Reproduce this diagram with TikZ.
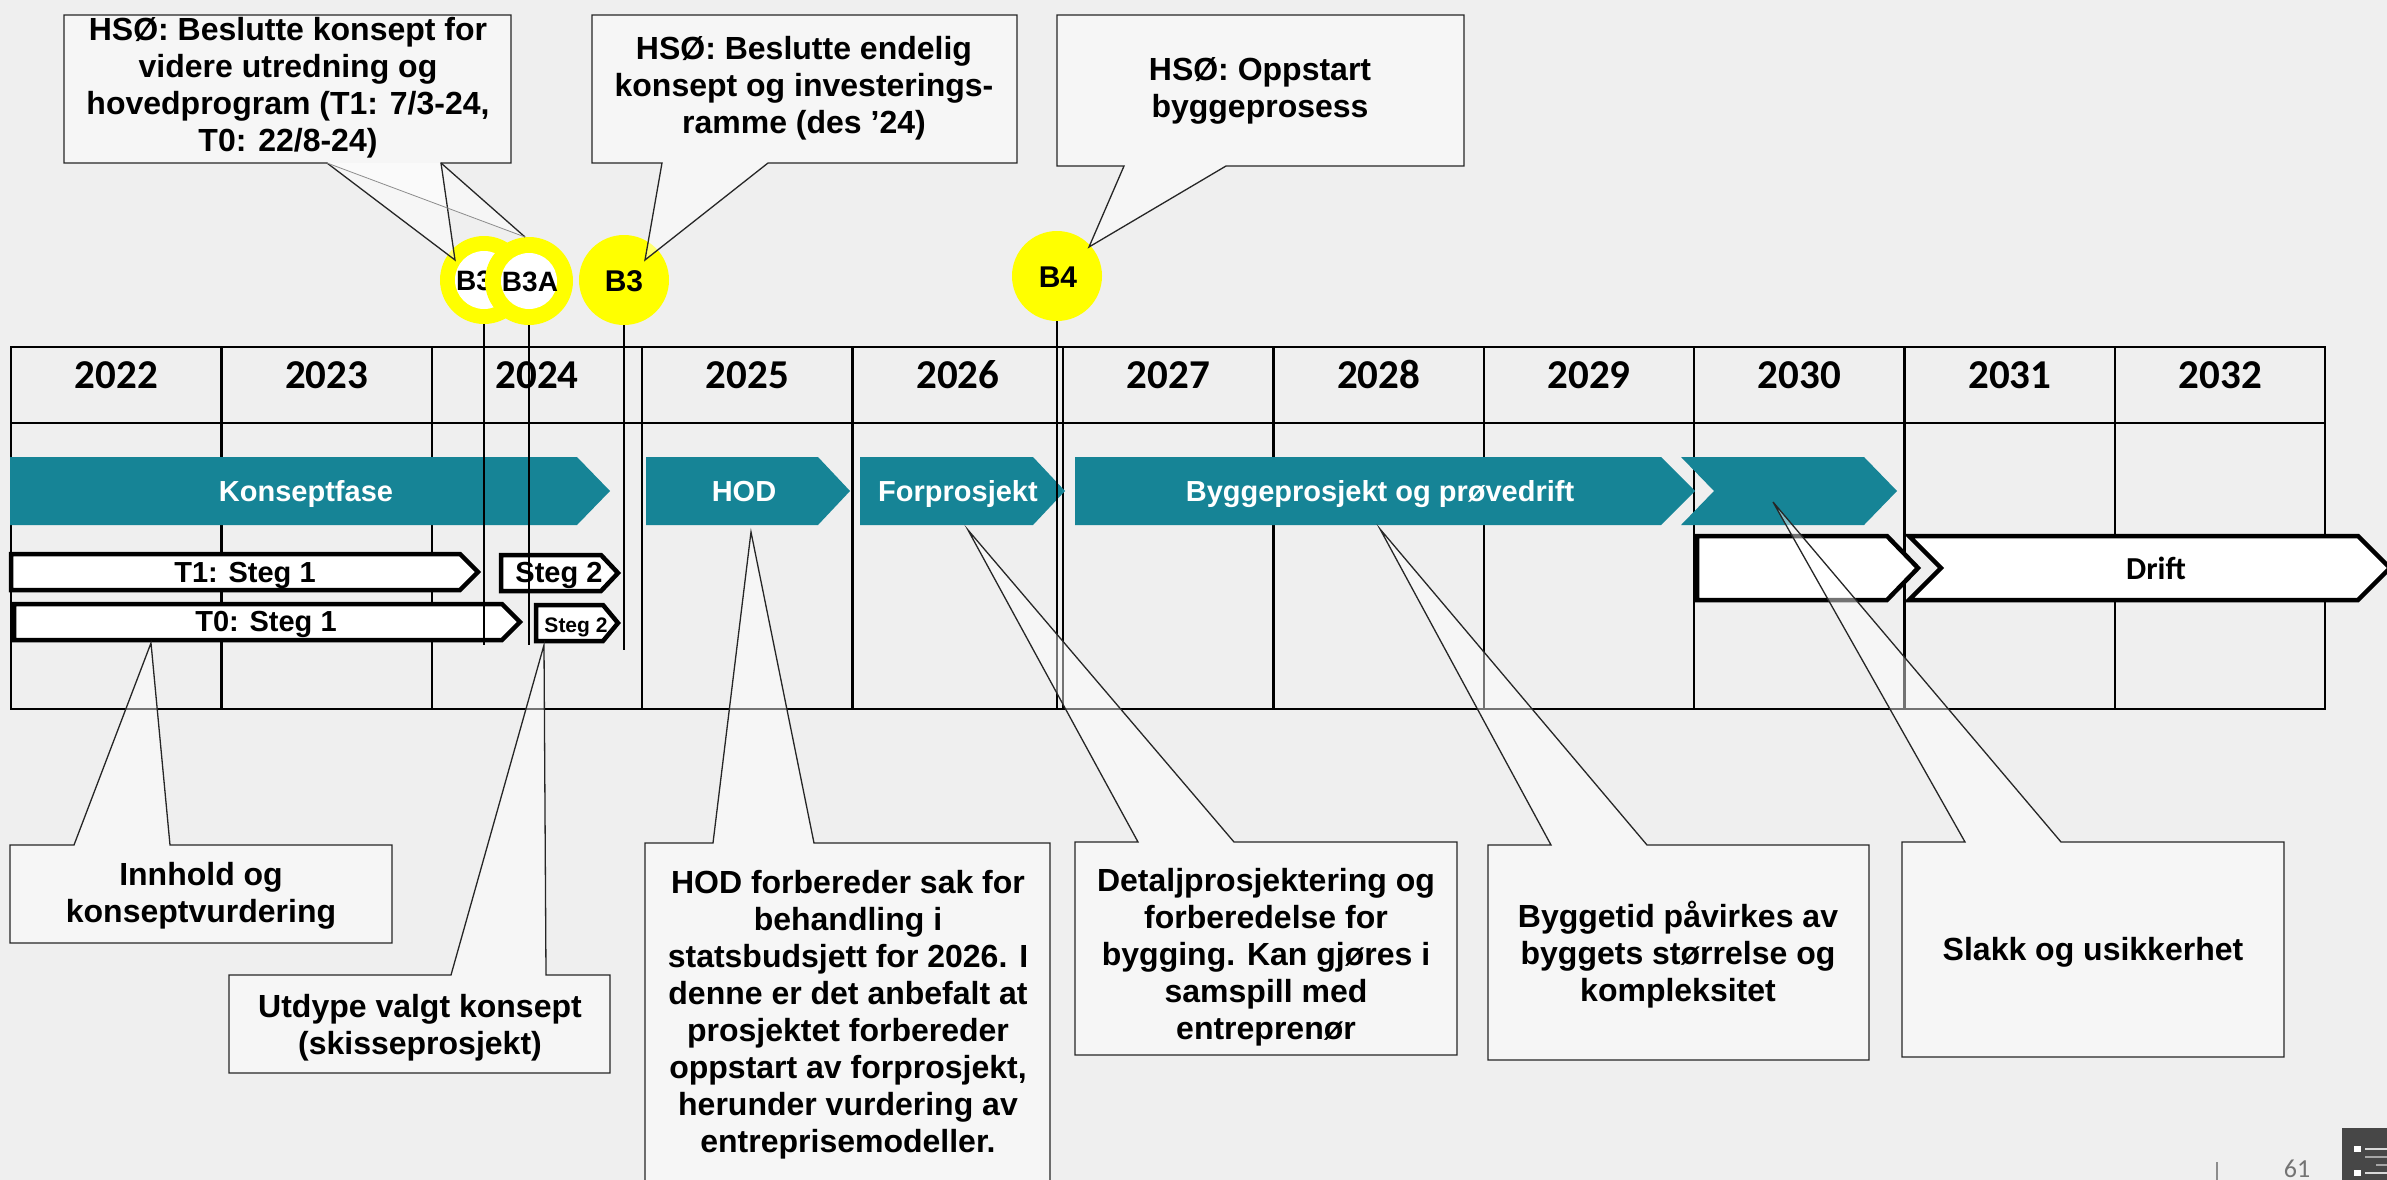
\documentclass[tikz,border=0pt]{standalone}
\usepackage{fontspec}
\newfontfamily\lsans{Liberation Sans}
\newfontfamily\carl{Carlito}
\usetikzlibrary{calc}
\definecolor{bgc}{HTML}{EFEFEF}
\definecolor{tealc}{HTML}{168496}
\definecolor{yelc}{HTML}{FFFF00}
\newcommand{\mycfont}{\lsans\bfseries\fontsize{32}{37}\selectfont}
\newcommand{\mybfont}{\lsans\bfseries\fontsize{29}{34}\selectfont}
\newcommand{\mysfont}{\lsans\bfseries\fontsize{21}{25}\selectfont}
\newcommand{\myyfont}{\carl\bfseries\fontsize{41}{48}\selectfont}
\newcommand{\mydfont}{\carl\bfseries\fontsize{32}{38}\selectfont}
\newcommand{\myrfont}{\lsans\bfseries\fontsize{28}{32}\selectfont}
\newcommand{\myqfont}{\lsans\bfseries\fontsize{30}{36}\selectfont}
\begin{document}
\begin{tikzpicture}[x=1pt,y=-1pt,
  gridln/.style={line width=2.5pt, black},
  tealbar/.style={fill=tealc, draw=none},
  whitebar/.style={fill=white, draw=black, line width=4.5pt, line join=miter},
  bline/.style={line width=2pt, black},
  callout/.style={draw=black!85, line width=1.3pt, fill=white, fill opacity=0.45, line join=miter},
  ctext/.style={font=\mycfont, align=center, inner sep=0pt, text=black},
  btext/.style={font=\mybfont, text=white, inner sep=0pt, anchor=base},
  stext/.style={font=\mybfont, text=black, inner sep=0pt, anchor=base},
  ytext/.style={font=\myyfont, text=black, inner sep=0pt, anchor=base},
  ring/.style={circle, fill=yelc, minimum size=88pt, inner sep=0pt},
  ringin/.style={circle, fill=white, inner sep=0pt},
]
\useasboundingbox (0,0) rectangle (2387,1180);
\fill[bgc] (0,0) rectangle (2387,1180);

% ---------------- table ----------------
\draw[gridln] (11,347) rectangle (2325,709);
\draw[gridln] (11,423) -- (2325,423);
\foreach \i in {1,...,10} { \draw[gridln] ({11+210.4*\i},347) -- ({11+210.4*\i},709); }
\foreach \i in {0,...,10} {
  \pgfmathtruncatemacro{\yr}{2022+\i}
  \node[ytext] (yr\i) at ({116.2+210.4*\i},388) {\yr};
}

% ---------------- teal phase bars ----------------
\fill[tealbar] (10,457) -- (577,457) -- (610,491) -- (577,525) -- (10,525) -- cycle;
\fill[tealbar] (646,457) -- (818,457) -- (850,491) -- (818,525) -- (646,525) -- cycle;
\fill[tealbar] (860,457) -- (1033,457) -- (1065,491) -- (1033,525) -- (860,525) -- cycle;
\fill[tealbar] (1075,457) -- (1661,457) -- (1695,491) -- (1661,525) -- (1075,525) -- cycle;
\fill[tealbar] (1681,457) -- (1864,457) -- (1897,491) -- (1864,525) -- (1681,525) -- (1714,491) -- cycle;

% ---------------- white step bars ----------------
\draw[whitebar] (11,554) -- (460,554) -- (478,572) -- (460,590) -- (11,590) -- cycle;
\draw[whitebar] (501,555) -- (601,555) -- (618,573) -- (601,591) -- (501,591) -- cycle;
\draw[whitebar] (14,604) -- (502,604) -- (520,622) -- (502,640) -- (14,640) -- cycle;
\draw[whitebar] (536,605) -- (603,605) -- (618,623) -- (603,641) -- (536,641) -- cycle;
\draw[whitebar] (1697,536) -- (1887,536) -- (1918,568) -- (1887,600) -- (1697,600) -- cycle;
\draw[whitebar] (1909,536) -- (2358,536) -- (2390,568) -- (2358,600) -- (1909,600) -- (1941,568) -- cycle;

% ---------------- milestones ----------------
\node[ring] (r1) at (484,280) {};
\node[ringin, minimum size=58pt] (r1i) at (484,280) {};
\node[font=\myrfont, inner sep=0pt, anchor=base] (r1t) at (474,290) {B3};
\node[ring] (r2) at (529,281) {};
\node[ringin, minimum size=56pt] (r2i) at (529,281) {};
\node[font=\myrfont, inner sep=0pt, anchor=base] (r2t) at (530,291) {B3A};
\node[ring, minimum size=90pt] (c3) at (624,280) {};
\node[font=\myqfont, inner sep=0pt, anchor=base] (c3t) at (624,291) {B3};
\node[ring, minimum size=90pt] (c4) at (1057,276) {};
\node[font=\myqfont, inner sep=0pt, anchor=base] (c4t) at (1058,287) {B4};

\coordinate (e1) at (484,645);
\coordinate (e2) at (529,645);
\coordinate (e3) at (624,650);
\coordinate (e4) at (1057,709);
\draw[bline] (r1.south) -- (e1);
\draw[bline] (r2.south) -- (e2);
\draw[bline] (c3.south) -- (e3);
\draw[bline] (c4.south) -- (e4);

% ---------------- bar texts ----------------
\node[btext] (tk) at (306,501) {Konseptfase};
\node[btext] (th) at (744,501) {HOD};
\node[btext] (tf) at (958,501) {Forprosjekt};
\node[btext] (tb) at (1380,501) {Byggeprosjekt og prøvedrift};
\node[stext] (s11) at (245,582) {T1: Steg 1};
\node[stext] (s12) at (559,582) {Steg 2};
\node[stext] (s01) at (266,631) {T0: Steg 1};
\node[font=\mysfont, inner sep=0pt, anchor=base] (s02) at (576,632) {Steg 2};
\node[font=\mydfont, inner sep=0pt, anchor=base] (drift) at (2156,579) {Drift};

% ---------------- callouts (top) ----------------
\coordinate (Anw) at (64,15);   \coordinate (Ase) at (511,163);
\coordinate (Ab1) at (327,163); \coordinate (Ab2) at (441,163);
\coordinate (Atip1) at (455,260); \coordinate (Atip2) at (525,237);
\fill[white, fill opacity=0.45] (Ab1) -- (Atip2) -- (Ab2) -- cycle;
\draw[callout] (Anw) -- (Anw -| Ase) -- (Ase) -- (Ab2) -- (Atip1) -- (Ab1) -- (Anw |- Ase) -- cycle;
\draw[line width=1.3pt, black!85] (Ab2) -- (Atip2);
\draw[line width=0.8pt, black!45] (Ab1) -- (Atip2);

\coordinate (Bnw) at (592,15);  \coordinate (Bse) at (1017,163);
\coordinate (Bb1) at (662,163); \coordinate (Bb2) at (768,163);
\coordinate (Btip) at (645,260);
\draw[callout] (Bnw) -- (Bnw -| Bse) -- (Bse) -- (Bb2) -- (Btip) -- (Bb1) -- (Bnw |- Bse) -- cycle;

\coordinate (Cnw) at (1057,15);  \coordinate (Cse) at (1464,166);
\coordinate (Cb1) at (1124,166); \coordinate (Cb2) at (1226,166);
\coordinate (Ctip) at (1089,247);
\draw[callout] (Cnw) -- (Cnw -| Cse) -- (Cse) -- (Cb2) -- (Ctip) -- (Cb1) -- (Cnw |- Cse) -- cycle;

% ---------------- callouts (bottom) ----------------
\coordinate (Dnw) at (10,845);  \coordinate (Dse) at (392,943);
\coordinate (Db1) at (74,845);  \coordinate (Db2) at (170,845);
\coordinate (Dtip) at (151,643);
\draw[callout] (Dnw) -- (Db1) -- (Dtip) -- (Db2) -- (Dnw -| Dse) -- (Dse) -- (Dnw |- Dse) -- cycle;

\coordinate (Enw) at (229,975);  \coordinate (Ese) at (610,1073);
\coordinate (Eb1) at (451,975);  \coordinate (Eb2) at (546,975);
\coordinate (Etip) at (544,645);
\draw[callout] (Enw) -- (Eb1) -- (Etip) -- (Eb2) -- (Enw -| Ese) -- (Ese) -- (Enw |- Ese) -- cycle;

\coordinate (Fnw) at (645,843);  \coordinate (Fse) at (1050,1190);
\coordinate (Fb1) at (713,843);  \coordinate (Fb2) at (814,843);
\coordinate (Ftip) at (751,532);
\draw[callout] (Fnw) -- (Fb1) -- (Ftip) -- (Fb2) -- (Fnw -| Fse) -- (Fse) -- (Fnw |- Fse) -- cycle;

\coordinate (Gnw) at (1075,842); \coordinate (Gse) at (1457,1055);
\coordinate (Gb1) at (1138,842); \coordinate (Gb2) at (1234,842);
\coordinate (Gtip) at (968,530);
\draw[callout] (Gnw) -- (Gb1) -- (Gtip) -- (Gb2) -- (Gnw -| Gse) -- (Gse) -- (Gnw |- Gse) -- cycle;

\coordinate (Hnw) at (1488,845); \coordinate (Hse) at (1869,1060);
\coordinate (Hb1) at (1551,845); \coordinate (Hb2) at (1647,845);
\coordinate (Htip) at (1380,529);
\draw[callout] (Hnw) -- (Hb1) -- (Htip) -- (Hb2) -- (Hnw -| Hse) -- (Hse) -- (Hnw |- Hse) -- cycle;

\coordinate (Inw) at (1902,842); \coordinate (Ise) at (2284,1057);
\coordinate (Ib1) at (1965,842); \coordinate (Ib2) at (2061,842);
\coordinate (Itip) at (1773,502);
\draw[callout] (Inw) -- (Ib1) -- (Itip) -- (Ib2) -- (Inw -| Ise) -- (Ise) -- (Inw |- Ise) -- cycle;

% ---------------- callout texts ----------------
\node[ctext] (A) at (288,88) {HSØ: Beslutte konsept for\\videre utredning og\\hovedprogram (T1: 7/3-24,\\T0: 22/8-24)};
\node[ctext] (B) at (804,88) {HSØ: Beslutte endelig\\konsept og investerings-\\ramme (des ’24)};
\node[ctext] (C) at (1260,91) {HSØ: Oppstart\\byggeprosess};
\node[ctext] (D) at (201,896) {Innhold og\\konseptvurdering};
\node[ctext] (E) at (420,1028) {Utdype valgt konsept\\(skisseprosjekt)};
\node[ctext] (F) at (848,1015) {HOD forbereder sak for\\behandling i\\statsbudsjett for 2026. I\\denne er det anbefalt at\\prosjektet forbereder\\oppstart av forprosjekt,\\herunder vurdering av\\entreprisemodeller.};
\node[ctext] (G) at (1266,957) {Detaljprosjektering og\\forberedelse for\\bygging. Kan gjøres i\\samspill med\\entreprenør};
\node[ctext] (H) at (1678,955) {Byggetid påvirkes av\\byggets størrelse og\\kompleksitet};
\node[ctext] (I) at (2093,952) {Slakk og usikkerhet};

% ---------------- slide footer ----------------
\draw[black!45, line width=1.5pt] (2217,1162) -- (2217,1182);
\node[font=\carl\fontsize{26}{30}\selectfont, text=black!55, anchor=south, inner sep=0pt] (pg) at (2297,1178) {61};
\fill[black!72] (2342,1128) rectangle (2392,1184);
\fill[white] (2354,1146) rectangle (2361,1152);
\draw[white!85!black, line width=2pt] (2365,1149) -- (2392,1149);
\draw[white!65!black, line width=1.5pt] (2365,1157) -- (2392,1157);
\draw[white!65!black, line width=1.5pt] (2376,1165) -- (2392,1165);
\fill[white] (2354,1170) rectangle (2361,1176);
\draw[white!85!black, line width=2pt] (2365,1173) -- (2392,1173);
\end{tikzpicture}
\end{document}
